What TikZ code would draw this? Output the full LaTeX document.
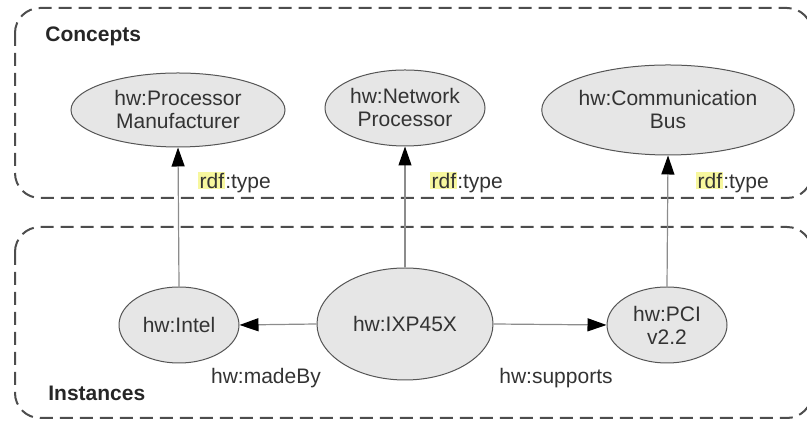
\documentclass[tikz,border=0pt]{standalone}
\usepackage{fontspec}
\setmainfont{Liberation Sans}
\usetikzlibrary{shapes.geometric,arrows.meta}
\definecolor{txt}{HTML}{333333}
\definecolor{ellfill}{HTML}{E6E6E6}
\definecolor{ellline}{HTML}{555555}
\definecolor{boxline}{HTML}{4D4D4D}
\definecolor{edge}{HTML}{8C8C8C}
\definecolor{hl}{HTML}{F7F79E}
\newcommand{\rdfhl}{{\setlength{\fboxsep}{0.6pt}\colorbox{hl}{rdf}}}
\tikzset{
  concept/.style={ellipse, draw=ellline, fill=ellfill, line width=0.5pt, inner sep=0pt,
    align=center, text=txt, font=\fontsize{10.5}{11.5}\selectfont},
  group/.style={draw=boxline, line width=1pt, dash pattern=on 6.5pt off 3.5pt, rounded corners=12.5pt},
  lbl/.style={text=txt, font=\fontsize{10.5}{11.5}\selectfont, inner sep=0pt},
  title/.style={text=black!85, font=\fontsize{10.5}{11.5}\selectfont\bfseries, inner sep=0pt, anchor=west},
  rel/.style={draw=edge, line width=0.6pt, -{Triangle[length=9.5pt,width=6.5pt,fill=black,color=black]}}
}
\begin{document}
\begin{tikzpicture}[x=0.5pt,y=0.5pt]
\useasboundingbox (0,0) rectangle (807,421);
\begin{scope}
\clip (0,0) rectangle (807,421);
\draw[group] (15,413) rectangle (812,223);
\draw[group] (15,194) rectangle (812,3);
\end{scope}
\node[title] (tc) at (45,385) {Concepts};
\node[title] (ti) at (48,28) {Instances};
\node[concept, minimum width=107pt, minimum height=37pt] (pm) at (178,311) {hw:Processor\\Manufacturer};
\node[concept, minimum width=80pt, minimum height=38pt] (np) at (405,313) {hw:Network\\Processor};
\node[concept, minimum width=125.5pt, minimum height=45pt] (cb) at (668,311) {hw:Communication\\Bus};
\node[concept, minimum width=60pt, minimum height=38pt] (intel) at (179,96) {hw:Intel};
\node[concept, minimum width=88pt, minimum height=56pt] (ixp) at (405,97) {hw:IXP45X};
\node[concept, minimum width=60pt, minimum height=38pt] (pci) at (667,96) {hw:PCI\\v2.2};
\draw[rel] (intel.north) -- (pm.south);
\draw[rel] (ixp.north) -- (np.south);
\draw[rel] (pci.north) -- (cb.south);
\draw[rel] (ixp.west) -- (intel.east);
\draw[rel] (ixp.east) -- (pci.west);
\node[lbl, anchor=west] (l1) at (198,239) {\rdfhl:type};
\node[lbl, anchor=west] (l2) at (430,239) {\rdfhl:type};
\node[lbl, anchor=west] (l3) at (696,239) {\rdfhl:type};
\node[lbl] (l4) at (266,43) {hw:madeBy};
\node[lbl] (l5) at (556,43) {hw:supports};
\end{tikzpicture}
\end{document}
